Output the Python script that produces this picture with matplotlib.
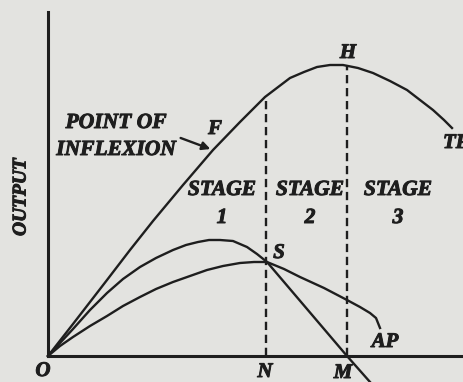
import matplotlib
matplotlib.use("Agg")
import matplotlib.pyplot as plt
import matplotlib.patheffects as pe

# curves (x = input, y = output; origin at O)
tp_x = [0, 25, 59, 82, 105, 135, 165, 192, 217, 242, 256, 269, 282, 295, 310, 325, 342, 359, 372, 385, 396, 404]
tp_y = [0, 32, 76, 106, 135, 171, 206, 234, 259, 278, 284, 289, 291, 291, 288, 283, 275, 266, 256, 246, 236, 228]

mp_x = [0, 12, 25, 42, 59, 75, 92, 108, 125, 138, 150, 161, 172, 185, 199, 209, 219, 259, 299, 322]
mp_y = [0, 13, 27, 46, 63, 77, 89, 98, 106, 111, 114, 116, 116, 115, 109, 102, 94, 47, 0, -26]

ap_x = [0, 12, 25, 42, 59, 75, 92, 108, 125, 142, 159, 175, 192, 206, 219, 236, 252, 276, 299, 312, 322, 328, 332]
ap_y = [0, 10, 19, 30, 40, 50, 59, 67, 74, 80, 86, 90, 93, 94, 94, 87, 79, 68, 56, 49, 43, 38, 28]

n_x, m_x = 218, 299
h_y = 291

INK = "#1e1e1e"
BG = "#e3e3e0"
font = dict(family=["Liberation Serif", "DejaVu Serif"], fontweight="bold",
            fontstyle="italic", color=INK,
            path_effects=[pe.withStroke(linewidth=0.7, foreground=INK)])

fig = plt.figure(figsize=(4.63, 3.82), dpi=100)
fig.patch.set_facecolor(BG)
ax = fig.add_axes([0, 0, 1, 1])
ax.set_facecolor(BG)
ax.set_xlim(-48, 415)
ax.set_ylim(-26, 356)
ax.axis("off")

# axes
ax.plot([0, 0], [0, 344], color=INK, lw=2.2)
ax.plot([0, 420], [0, 0], color=INK, lw=2.2)

ax.plot(tp_x, tp_y, color=INK, lw=1.7, solid_joinstyle="round")
ax.plot(mp_x, mp_y, color=INK, lw=1.7, solid_joinstyle="round")
ax.plot(ap_x, ap_y, color=INK, lw=1.7, solid_joinstyle="round")

ax.plot([n_x, n_x], [0, 259], color=INK, lw=1.7, ls=(0, (3.5, 2)))
ax.plot([m_x, m_x], [0, h_y], color=INK, lw=1.7, ls=(0, (3.5, 2)))

ax.text(300, 303, "H", ha="center", va="center", fontsize=15, **font)
ax.text(167, 227, "F", ha="center", va="center", fontsize=15, **font)
ax.text(395, 213, "TP", ha="left", va="center", fontsize=15, **font)
ax.text(231, 103, "S", ha="center", va="center", fontsize=15, **font)
ax.text(337, 14, "AP", ha="center", va="center", fontsize=15, **font)
ax.text(-5, -15, "O", ha="center", va="center", fontsize=15, **font)
ax.text(217, -16, "N", ha="center", va="center", fontsize=15, **font)
ax.text(295, -17, "M", ha="center", va="center", fontsize=15, **font)

ax.text(68, 233, "POINT OF", ha="center", va="center", fontsize=15.5, **font)
ax.text(68, 206, "INFLEXION", ha="center", va="center", fontsize=15.5, **font)
ax.annotate("", xy=(165, 206), xytext=(130, 219),
            arrowprops=dict(arrowstyle="-|>", color=INK, lw=1.7, mutation_scale=12))

for cx, num in [(174, "1"), (262, "2"), (350, "3")]:
    ax.text(cx, 166, "STAGE", ha="center", va="center", fontsize=15.5, **font)
    ax.text(cx, 138, num, ha="center", va="center", fontsize=15.5, **font)

ax.text(-27, 159, "OUTPUT", ha="center", va="center", rotation=90, fontsize=14, **font)

fig.savefig("out.png", dpi=100, facecolor=fig.get_facecolor())
